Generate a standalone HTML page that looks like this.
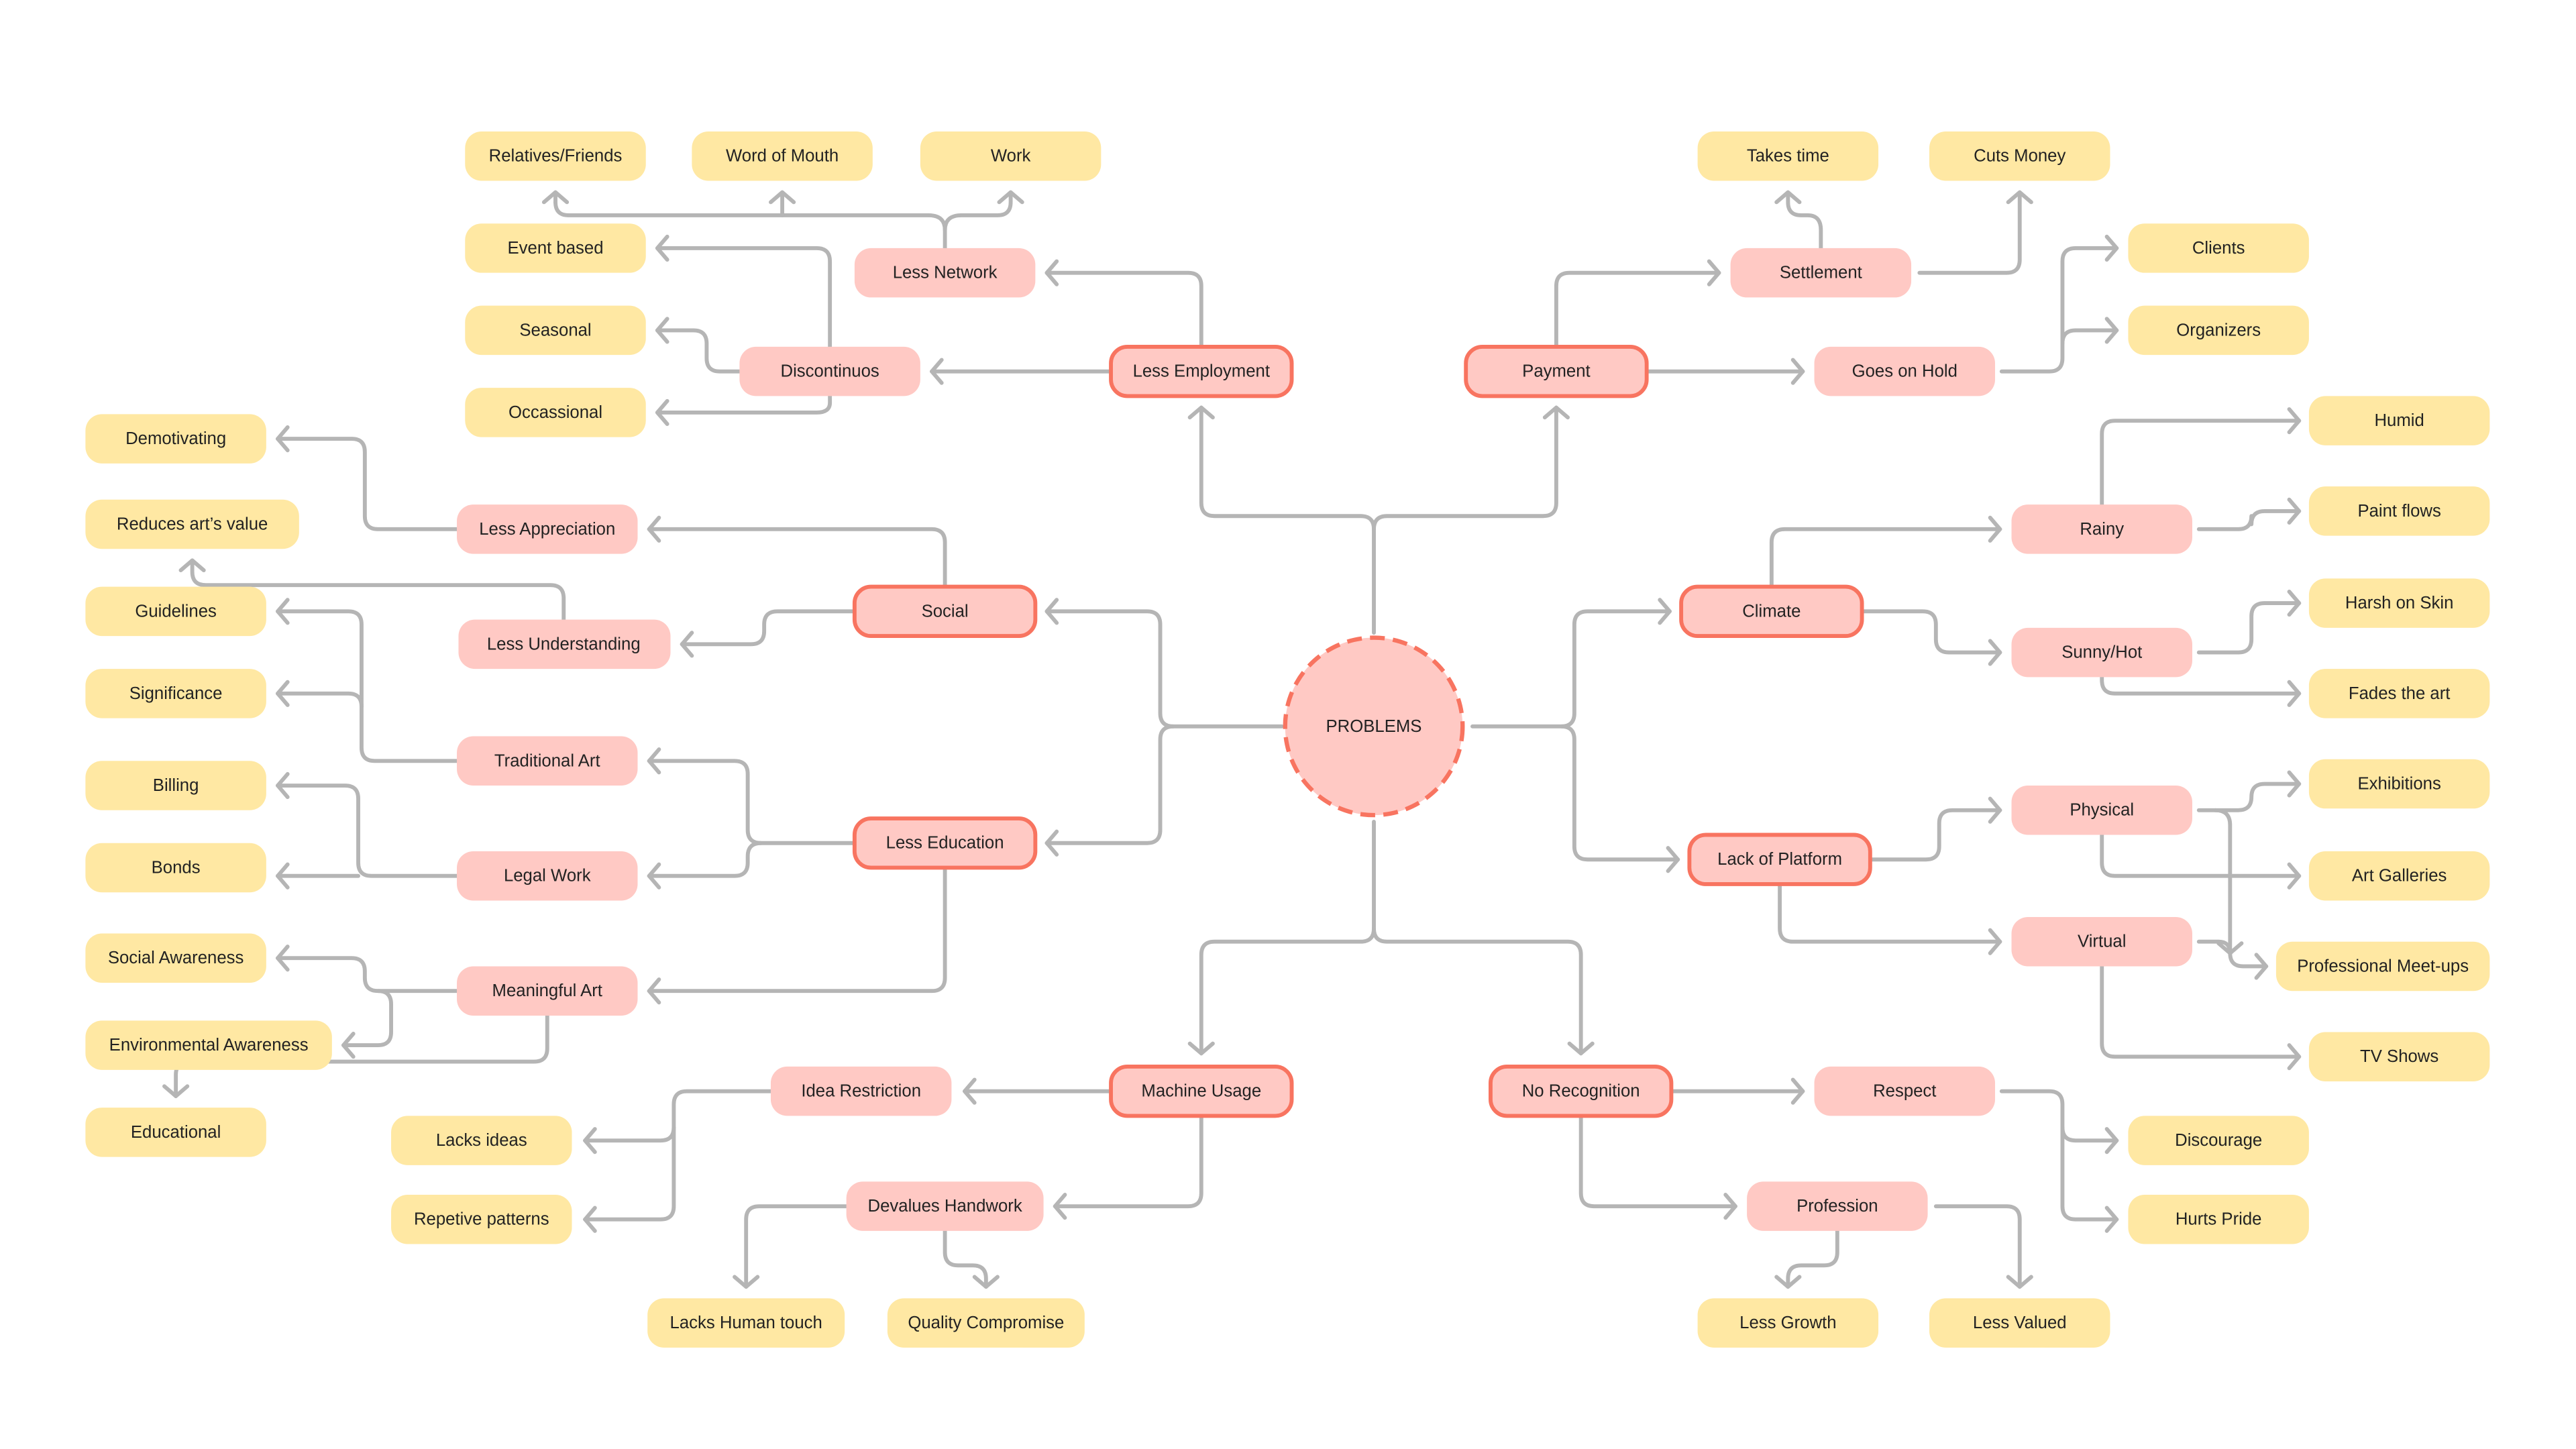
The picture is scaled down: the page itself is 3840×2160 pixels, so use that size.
<!DOCTYPE html>
<html><head><meta charset="utf-8"><style>
html,body{margin:0;padding:0;background:#fff;}
svg{display:block;}
text{font-family:"Liberation Sans",Arial,sans-serif;font-size:10.5px;fill:#222;text-anchor:middle;dominant-baseline:central;}
.y{fill:#FFE8A3;}
.p{fill:#FFC9C4;}
.m{fill:#FFC9C4;stroke:#F87460;stroke-width:2.4;}
.c{fill:none;stroke:#B5B5B5;stroke-width:2.4;stroke-linejoin:round;stroke-linecap:round;marker-end:url(#a);}
.n{fill:none;stroke:#B5B5B5;stroke-width:2.4;stroke-linejoin:round;stroke-linecap:round;}
</style></head><body>
<svg width="3840" height="2160" viewBox="0 0 1567.5 881.7" xmlns="http://www.w3.org/2000/svg">
<defs><marker id="a" markerUnits="userSpaceOnUse" markerWidth="20" markerHeight="20" refX="0" refY="0" viewBox="-10 -10 20 20" orient="auto"><path d="M-6,-7 L0,0 L-6,7" fill="none" stroke="#B5B5B5" stroke-width="2.4" stroke-linecap="round" stroke-linejoin="round"/></marker></defs>

<g>
<path class="c" d="M836,385 V322 Q836,314 828,314 H739 Q731,314 731,306 V248"/>
<path class="c" d="M836,322 Q836,314 844,314 H939 Q947,314 947,306 V248"/>
<path class="c" d="M780,442 H714 Q706,442 706,434 V380 Q706,372 698,372 H637"/>
<path class="c" d="M714,442 Q706,442 706,450 V505 Q706,513 698,513 H637"/>
<path class="c" d="M896,442 H950 Q958,442 958,434 V380 Q958,372 966,372 H1016"/>
<path class="c" d="M950,442 Q958,442 958,450 V515 Q958,523 966,523 H1021"/>
<path class="c" d="M836,500 V565 Q836,573 828,573 H739 Q731,573 731,581 V641"/>
<path class="c" d="M836,565 Q836,573 844,573 H954 Q962,573 962,581 V641"/>

<path class="c" d="M731,211 V174 Q731,166 723,166 H637"/>
<path class="c" d="M676,226 H567"/>
<path class="n" d="M575,151 V140 Q575,131 565,131 H346 Q338,131 338,123"/>
<path class="c" d="M338,123 V117"/>
<path class="c" d="M476,131 V117"/>
<path class="c" d="M575,140 Q575,131 585,131 H607 Q615,131 615,123 V117"/>
<path class="c" d="M505,211 V159 Q505,151 497,151 H400"/>
<path class="c" d="M450,226 H438 Q430,226 430,218 V209 Q430,201 422,201 H400"/>
<path class="c" d="M505,241 V245 Q505,251 497,251 H400"/>

<path class="c" d="M947,211 V174 Q947,166 955,166 H1046"/>
<path class="c" d="M1002,226 H1097"/>
<path class="c" d="M1108,151 V140 Q1108,131 1100,131 H1096 Q1088,131 1088,123 V117"/>
<path class="c" d="M1168,166 H1221 Q1229,166 1229,158 V117"/>
<path class="c" d="M1218,226 H1247 Q1255,226 1255,218 V159 Q1255,151 1263,151 H1288"/>
<path class="c" d="M1255,209 Q1255,201 1263,201 H1288"/>

<path class="c" d="M575,357 V330 Q575,322 567,322 H395"/>
<path class="c" d="M520,372 H473 Q465,372 465,380 V384 Q465,392 457,392 H415"/>
<path class="c" d="M278,322 H230 Q222,322 222,314 V275 Q222,267 214,267 H169"/>
<path class="c" d="M343,377 V364 Q343,356 335,356 H125 Q117,356 117,348 V341"/>

<path class="c" d="M520,513 H463 Q455,513 455,505 V471 Q455,463 447,463 H395"/>
<path class="c" d="M463,513 Q455,513 455,521 V525 Q455,533 447,533 H395"/>
<path class="c" d="M575,528 V595 Q575,603 567,603 H395"/>
<path class="c" d="M278,463 H228 Q220,463 220,455 V380 Q220,372 212,372 H169"/>
<path class="c" d="M220,430 Q220,422 212,422 H169"/>
<path class="c" d="M278,533 H226 Q218,533 218,525 V486 Q218,478 210,478 H169"/>
<path class="c" d="M218,533 H169"/>
<path class="c" d="M278,603 H230 Q222,603 222,595 V591 Q222,583 214,583 H169"/>
<path class="c" d="M230,603 Q238,603 238,611 V628 Q238,636 230,636 H209"/>
<path class="c" d="M333,618 V638 Q333,646 325,646 H115 Q107,646 107,654 V667"/>

<path class="c" d="M1078,357 V330 Q1078,322 1086,322 H1217"/>
<path class="c" d="M1133,372 H1170 Q1178,372 1178,380 V389 Q1178,397 1186,397 H1217"/>
<path class="c" d="M1279,307 V264 Q1279,256 1287,256 H1399"/>
<path class="c" d="M1338,322 H1362 Q1370,322 1370,314 V319 Q1370,311 1378,311 H1399"/>
<path class="c" d="M1338,397 H1362 Q1370,397 1370,389 V375 Q1370,367 1378,367 H1399"/>
<path class="c" d="M1279,412 V414 Q1279,422 1287,422 H1399"/>
<path class="c" d="M1138,523 H1172 Q1180,523 1180,515 V501 Q1180,493 1188,493 H1217"/>
<path class="c" d="M1083,538 V565 Q1083,573 1091,573 H1217"/>
<path class="c" d="M1338,493 H1362 Q1370,493 1370,485 V485 Q1370,477 1378,477 H1399"/>
<path class="c" d="M1348,493 Q1357,493 1357,502 V580 Q1357,588 1365,588 H1379"/>
<path class="c" d="M1279,508 V525 Q1279,533 1287,533 H1399"/>
<path class="c" d="M1338,573 H1350 Q1357,573 1357,580"/>
<path class="c" d="M1279,588 V635 Q1279,643 1287,643 H1399"/>

<path class="c" d="M676,664 H587"/>
<path class="c" d="M731,679 V726 Q731,734 723,734 H642"/>
<path class="c" d="M469,664 H418 Q410,664 410,672 V686 Q410,694 402,694 H356"/>
<path class="c" d="M410,686 V734 Q410,742 402,742 H356"/>
<path class="c" d="M515,734 H462 Q454,734 454,742 V783"/>
<path class="c" d="M575,749 V762 Q575,770 583,770 H592 Q600,770 600,778 V783"/>

<path class="c" d="M1017,664 H1097"/>
<path class="c" d="M962,679 V726 Q962,734 970,734 H1056"/>
<path class="c" d="M1218,664 H1247 Q1255,664 1255,672 V686 Q1255,694 1263,694 H1288"/>
<path class="c" d="M1255,686 V734 Q1255,742 1263,742 H1288"/>
<path class="c" d="M1118,749 V762 Q1118,770 1110,770 H1096 Q1088,770 1088,778 V783"/>
<path class="c" d="M1178,734 H1221 Q1229,734 1229,742 V783"/>
</g>

<circle cx="836" cy="442" r="54" fill="#FFC9C4" stroke="#F87460" stroke-width="2.6" stroke-dasharray="9,5"/>
<text x="836" y="442">PROBLEMS</text>

<g>
<rect class="y" x="283" y="80" width="110" height="30" rx="10"/><text x="338" y="95">Relatives/Friends</text>
<rect class="y" x="421" y="80" width="110" height="30" rx="10"/><text x="476" y="95">Word of Mouth</text>
<rect class="y" x="560" y="80" width="110" height="30" rx="10"/><text x="615" y="95">Work</text>
<rect class="y" x="283" y="136" width="110" height="30" rx="10"/><text x="338" y="151">Event based</text>
<rect class="y" x="283" y="186" width="110" height="30" rx="10"/><text x="338" y="201">Seasonal</text>
<rect class="y" x="283" y="236" width="110" height="30" rx="10"/><text x="338" y="251">Occassional</text>
<rect class="y" x="1033" y="80" width="110" height="30" rx="10"/><text x="1088" y="95">Takes time</text>
<rect class="y" x="1174" y="80" width="110" height="30" rx="10"/><text x="1229" y="95">Cuts Money</text>
<rect class="y" x="1295" y="136" width="110" height="30" rx="10"/><text x="1350" y="151">Clients</text>
<rect class="y" x="1295" y="186" width="110" height="30" rx="10"/><text x="1350" y="201">Organizers</text>
<rect class="y" x="52" y="252" width="110" height="30" rx="10"/><text x="107" y="267">Demotivating</text>
<rect class="y" x="52" y="304" width="130" height="30" rx="10"/><text x="117" y="319">Reduces art’s value</text>
<rect class="y" x="52" y="357" width="110" height="30" rx="10"/><text x="107" y="372">Guidelines</text>
<rect class="y" x="52" y="407" width="110" height="30" rx="10"/><text x="107" y="422">Significance</text>
<rect class="y" x="52" y="463" width="110" height="30" rx="10"/><text x="107" y="478">Billing</text>
<rect class="y" x="52" y="513" width="110" height="30" rx="10"/><text x="107" y="528">Bonds</text>
<rect class="y" x="52" y="568" width="110" height="30" rx="10"/><text x="107" y="583">Social Awareness</text>
<rect class="y" x="52" y="621" width="150" height="30" rx="10"/><text x="127" y="636">Environmental Awareness</text>
<rect class="y" x="52" y="674" width="110" height="30" rx="10"/><text x="107" y="689">Educational</text>
<rect class="y" x="1405" y="241" width="110" height="30" rx="10"/><text x="1460" y="256">Humid</text>
<rect class="y" x="1405" y="296" width="110" height="30" rx="10"/><text x="1460" y="311">Paint flows</text>
<rect class="y" x="1405" y="352" width="110" height="30" rx="10"/><text x="1460" y="367">Harsh on Skin</text>
<rect class="y" x="1405" y="407" width="110" height="30" rx="10"/><text x="1460" y="422">Fades the art</text>
<rect class="y" x="1405" y="462" width="110" height="30" rx="10"/><text x="1460" y="477">Exhibitions</text>
<rect class="y" x="1405" y="518" width="110" height="30" rx="10"/><text x="1460" y="533">Art Galleries</text>
<rect class="y" x="1385" y="573" width="130" height="30" rx="10"/><text x="1450" y="588">Professional Meet-ups</text>
<rect class="y" x="1405" y="628" width="110" height="30" rx="10"/><text x="1460" y="643">TV Shows</text>
<rect class="y" x="238" y="679" width="110" height="30" rx="10"/><text x="293" y="694">Lacks ideas</text>
<rect class="y" x="238" y="727" width="110" height="30" rx="10"/><text x="293" y="742">Repetive patterns</text>
<rect class="y" x="394" y="790" width="120" height="30" rx="10"/><text x="454" y="805">Lacks Human touch</text>
<rect class="y" x="540" y="790" width="120" height="30" rx="10"/><text x="600" y="805">Quality Compromise</text>
<rect class="y" x="1295" y="679" width="110" height="30" rx="10"/><text x="1350" y="694">Discourage</text>
<rect class="y" x="1295" y="727" width="110" height="30" rx="10"/><text x="1350" y="742">Hurts Pride</text>
<rect class="y" x="1033" y="790" width="110" height="30" rx="10"/><text x="1088" y="805">Less Growth</text>
<rect class="y" x="1174" y="790" width="110" height="30" rx="10"/><text x="1229" y="805">Less Valued</text>
</g>

<g>
<rect class="p" x="520" y="151" width="110" height="30" rx="10"/><text x="575" y="166">Less Network</text>
<rect class="p" x="450" y="211" width="110" height="30" rx="10"/><text x="505" y="226">Discontinuos</text>
<rect class="p" x="1053" y="151" width="110" height="30" rx="10"/><text x="1108" y="166">Settlement</text>
<rect class="p" x="1104" y="211" width="110" height="30" rx="10"/><text x="1159" y="226">Goes on Hold</text>
<rect class="p" x="278" y="307" width="110" height="30" rx="10"/><text x="333" y="322">Less Appreciation</text>
<rect class="p" x="279" y="377" width="129" height="30" rx="10"/><text x="343" y="392">Less Understanding</text>
<rect class="p" x="278" y="448" width="110" height="30" rx="10"/><text x="333" y="463">Traditional Art</text>
<rect class="p" x="278" y="518" width="110" height="30" rx="10"/><text x="333" y="533">Legal Work</text>
<rect class="p" x="278" y="588" width="110" height="30" rx="10"/><text x="333" y="603">Meaningful Art</text>
<rect class="p" x="1224" y="307" width="110" height="30" rx="10"/><text x="1279" y="322">Rainy</text>
<rect class="p" x="1224" y="382" width="110" height="30" rx="10"/><text x="1279" y="397">Sunny/Hot</text>
<rect class="p" x="1224" y="478" width="110" height="30" rx="10"/><text x="1279" y="493">Physical</text>
<rect class="p" x="1224" y="558" width="110" height="30" rx="10"/><text x="1279" y="573">Virtual</text>
<rect class="p" x="469" y="649" width="110" height="30" rx="10"/><text x="524" y="664">Idea Restriction</text>
<rect class="p" x="515" y="719" width="120" height="30" rx="10"/><text x="575" y="734">Devalues Handwork</text>
<rect class="p" x="1104" y="649" width="110" height="30" rx="10"/><text x="1159" y="664">Respect</text>
<rect class="p" x="1063" y="719" width="110" height="30" rx="10"/><text x="1118" y="734">Profession</text>
</g>

<g>
<rect class="m" x="676" y="211" width="110" height="30" rx="10"/><text x="731" y="226">Less Employment</text>
<rect class="m" x="892" y="211" width="110" height="30" rx="10"/><text x="947" y="226">Payment</text>
<rect class="m" x="520" y="357" width="110" height="30" rx="10"/><text x="575" y="372">Social</text>
<rect class="m" x="520" y="498" width="110" height="30" rx="10"/><text x="575" y="513">Less Education</text>
<rect class="m" x="1023" y="357" width="110" height="30" rx="10"/><text x="1078" y="372">Climate</text>
<rect class="m" x="1028" y="508" width="110" height="30" rx="10"/><text x="1083" y="523">Lack of Platform</text>
<rect class="m" x="676" y="649" width="110" height="30" rx="10"/><text x="731" y="664">Machine Usage</text>
<rect class="m" x="907" y="649" width="110" height="30" rx="10"/><text x="962" y="664">No Recognition</text>
</g>
</svg>
</body></html>
